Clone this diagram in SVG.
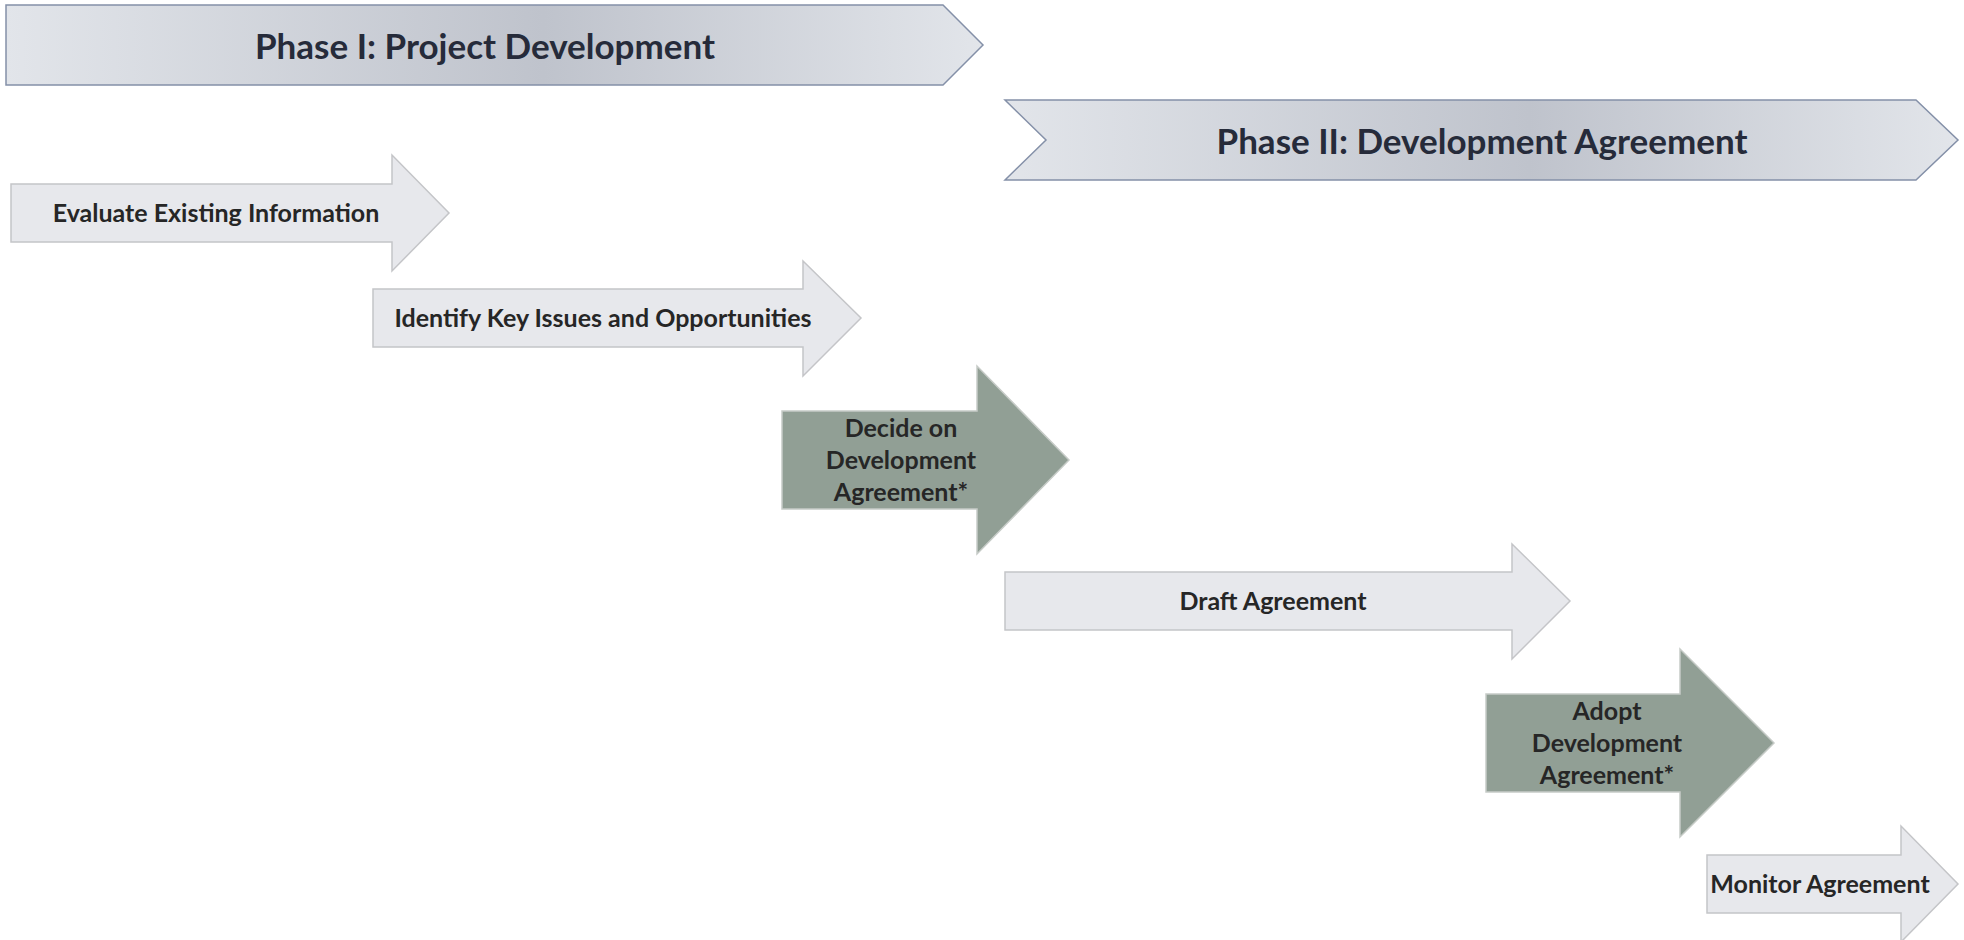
<svg xmlns="http://www.w3.org/2000/svg" width="1964" height="940" viewBox="0 0 1964 940">
<defs>
<linearGradient id="phaseGrad" x1="0" y1="0" x2="1" y2="0">
<stop offset="0" stop-color="#e2e5ea"/>
<stop offset="0.55" stop-color="#bfc3cc"/>
<stop offset="1" stop-color="#e2e5ea"/>
</linearGradient>
<style>
.phase{fill:url(#phaseGrad);stroke:#8490a8;stroke-width:1.5}
.light{fill:#e7e8ec;stroke:#c4c5c8;stroke-width:1.5}
.green{fill:#919f95;stroke:#c6cbc7;stroke-width:1.5}
.ptxt{font-family:Lato,"Open Sans","DejaVu Sans",sans-serif;font-weight:bold;font-size:35px;fill:#262b3a;text-anchor:middle}
.stxt{font-family:Lato,"Open Sans","DejaVu Sans",sans-serif;font-weight:bold;font-size:25px;fill:#262626;text-anchor:middle}
</style>
</defs>
<rect width="1964" height="940" fill="#ffffff"/>
<g id="connectors"></g>
<g id="phase1">
<path class="phase" d="M6,5 H943 L983,45 L943,85 H6 Z"/>
<text class="ptxt" x="485" y="59">Phase I: Project Development</text>
</g>
<g id="phase2">
<path class="phase" d="M1005,100 H1916 L1958,140 L1916,180 H1005 L1046,140 Z"/>
<text class="ptxt" x="1482" y="154">Phase II: Development Agreement</text>
</g>
<g id="step1">
<path class="light" d="M11,184 H392 V155 L449,213 L392,271 V242 H11 Z"/>
<text class="stxt" x="216" y="222">Evaluate Existing Information</text>
</g>
<g id="step2">
<path class="light" d="M373,289 H803 V261 L861,318 L803,376 V347 H373 Z"/>
<text class="stxt" x="603" y="327">Identify Key Issues and Opportunities</text>
</g>
<g id="step3">
<path class="green" d="M782,411 H977 V366 L1069,460 L977,554 V509 H782 Z"/>
<text class="stxt" x="901" y="437">Decide on</text>
<text class="stxt" x="901" y="469">Development</text>
<text class="stxt" x="901" y="501">Agreement*</text>
</g>
<g id="step4">
<path class="light" d="M1005,572 H1512 V544 L1570,601 L1512,659 V630 H1005 Z"/>
<text class="stxt" x="1273" y="610">Draft Agreement</text>
</g>
<g id="step5">
<path class="green" d="M1486,694 H1680 V649 L1774,743 L1680,837 V792 H1486 Z"/>
<text class="stxt" x="1607" y="720">Adopt</text>
<text class="stxt" x="1607" y="752">Development</text>
<text class="stxt" x="1607" y="784">Agreement*</text>
</g>
<g id="step6">
<path class="light" d="M1707,855 H1901 V826 L1958,884 L1901,942 V913 H1707 Z"/>
<text class="stxt" x="1820" y="893">Monitor Agreement</text>
</g>
</svg>
